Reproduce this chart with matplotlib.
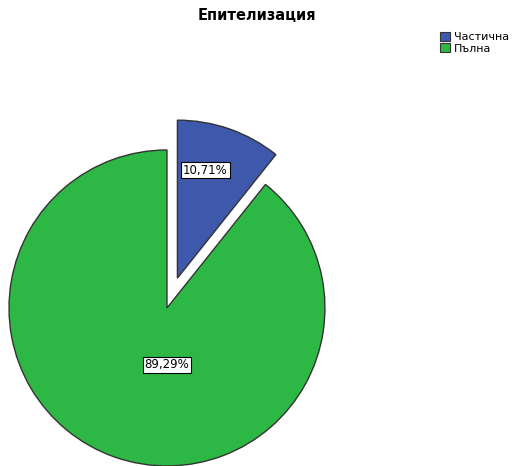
import matplotlib.pyplot as plt

categories = ['Частична', 'Пълна']
percents = [10.71, 89.29]
colors = ['#3e58ac', '#2db845']

fig = plt.figure(figsize=(5.12, 4.66), dpi=100)
ax = fig.add_axes([0, 0, 1, 1])

wedges, texts, autotexts = ax.pie(
    percents, colors=colors, startangle=90, counterclock=False,
    explode=(0.2, 0), radius=1.0, center=(0, 0),
    autopct=lambda p: f'{p:.2f}%'.replace('.', ','), pctdistance=0.72,
    wedgeprops=dict(edgecolor='#333333', linewidth=1.0),
    textprops=dict(fontsize=8.5),
)
# pie() resets the limits, so set them afterwards
ax.set_xlim(-1.057, 2.184)
ax.set_ylim(-1.0, 1.949)
ax.set_aspect('equal')
ax.axis('off')

for t in autotexts:
    t.set_bbox(dict(boxstyle='square,pad=0.15', facecolor='white', edgecolor='black', linewidth=0.8))
# SPSS-style label placement, relative to each slice's (exploded) centre
offsets = [(0.177, 0.684), (0.0, -0.36)]
for w, t, (dx, dy) in zip(wedges, autotexts, offsets):
    cx, cy = w.center
    t.set_position((cx + dx, cy + dy))

fig.text(0.502, 0.967, 'Епителизация', ha='center', va='center', fontsize=10.5, fontweight='bold')

handles = [plt.Rectangle((0, 0), 1, 1, facecolor=c, edgecolor='#333333', linewidth=0.8) for c in colors]
fig.legend(handles, categories, loc='upper left', bbox_to_anchor=(0.86, 0.932), frameon=False,
           fontsize=8, handlelength=0.9, handleheight=0.9, handletextpad=0.3, labelspacing=0.1,
           borderpad=0, borderaxespad=0)

fig.savefig('out.png', dpi=100)
